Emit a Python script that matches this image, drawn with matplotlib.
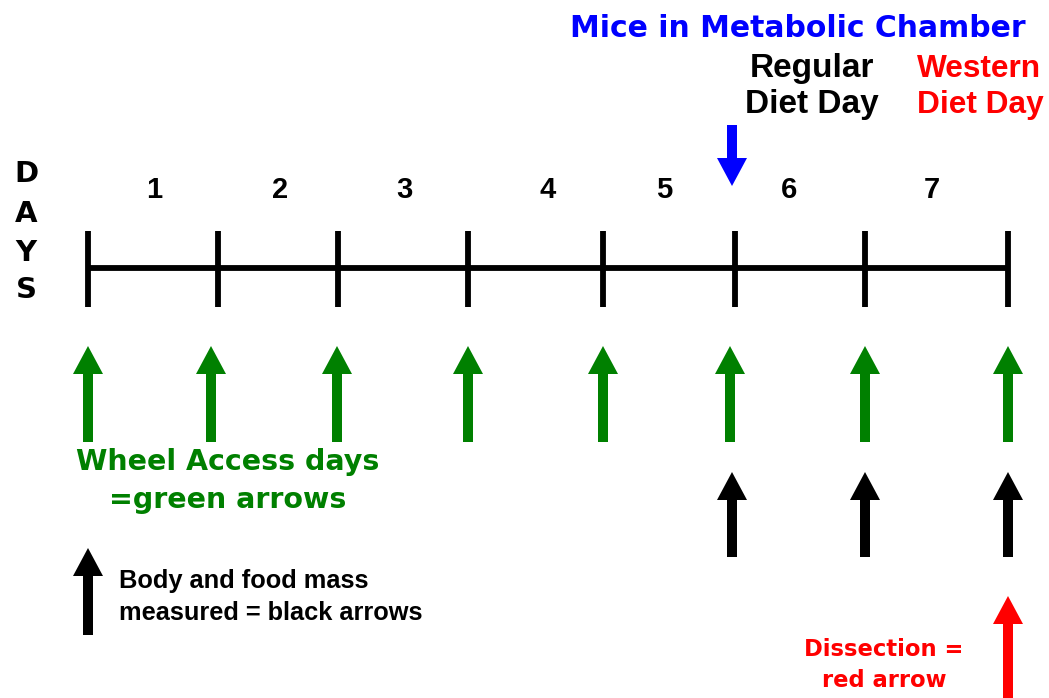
import matplotlib.pyplot as plt

# timeline geometry (pixel coordinates of the diagram)
tick_x = [88, 218, 338, 468, 603, 735, 865, 1008]
day_labels = ["1", "2", "3", "4", "5", "6", "7"]
day_label_x = [154, 280, 404, 548, 664, 789, 932]
green_x = [88, 211, 337, 468, 603, 730, 865, 1008]
black_x = [732, 865, 1008]
days_letters = ["D", "A", "Y", "S"]
days_letters_y = [182, 222, 261, 298]

GREEN = "#008000"

fig = plt.figure(figsize=(10.49, 6.98), dpi=100)
ax = fig.add_axes([0, 0, 1, 1])
ax.set_xlim(0, 1049)
ax.set_ylim(698, 0)
ax.axis("off")

# timeline
ax.plot([tick_x[0], tick_x[-1]], [268, 268], color="black", lw=4.2, solid_capstyle="butt")
for x in tick_x:
    ax.plot([x, x], [231, 307], color="black", lw=4.2, solid_capstyle="butt")

verd = dict(family="DejaVu Sans", weight="bold")
arial = dict(family="Liberation Sans", weight="bold")

for lab, x in zip(day_labels, day_label_x):
    ax.text(x, 198, lab, ha="center", va="baseline", fontsize=21, **arial)
for lab, y in zip(days_letters, days_letters_y):
    ax.text(26, y, lab, ha="center", va="baseline", fontsize=21, **verd)


def up_arrow(x, y_bottom, y_tip, color):
    ax.arrow(x, y_bottom, 0, y_tip - y_bottom, width=10, head_width=30,
             head_length=28, length_includes_head=True, color=color, lw=0)


for x in green_x:
    up_arrow(x, 442, 346, GREEN)
for x in black_x:
    up_arrow(x, 557, 472, "black")
up_arrow(88, 635, 548, "black")
up_arrow(1008, 700, 596, "red")

# blue down arrow
ax.arrow(732, 125, 0, 61, width=10, head_width=30, head_length=28,
         length_includes_head=True, color="blue", lw=0)

# texts
ax.text(798, 37, "Mice in Metabolic Chamber", color="blue", ha="center", va="baseline",
        fontsize=21.5, **verd)
ax.text(812, 77, "Regular", color="black", ha="center", va="baseline", fontsize=24, **arial)
ax.text(812, 113, "Diet Day", color="black", ha="center", va="baseline", fontsize=24, **arial)
ax.text(917, 77, "Western", color="red", ha="left", va="baseline", fontsize=22.8, **arial)
ax.text(917, 113, "Diet Day", color="red", ha="left", va="baseline", fontsize=22.8, **arial)
ax.text(228, 470, "Wheel Access days", color=GREEN, ha="center", va="baseline",
        fontsize=20.5, **verd)
ax.text(228, 508, "=green arrows", color=GREEN, ha="center", va="baseline",
        fontsize=20.5, **verd)
ax.text(119, 588, "Body and food mass", color="black", ha="left", va="baseline",
        fontsize=18.3, **arial)
ax.text(119, 620, "measured = black arrows", color="black", ha="left", va="baseline",
        fontsize=18.3, **arial)
ax.text(884, 656, "Dissection =", color="red", ha="center", va="baseline",
        fontsize=16.3, **verd)
ax.text(884, 687, "red arrow", color="red", ha="center", va="baseline",
        fontsize=16.3, **verd)

fig.savefig("out.png", dpi=100)
